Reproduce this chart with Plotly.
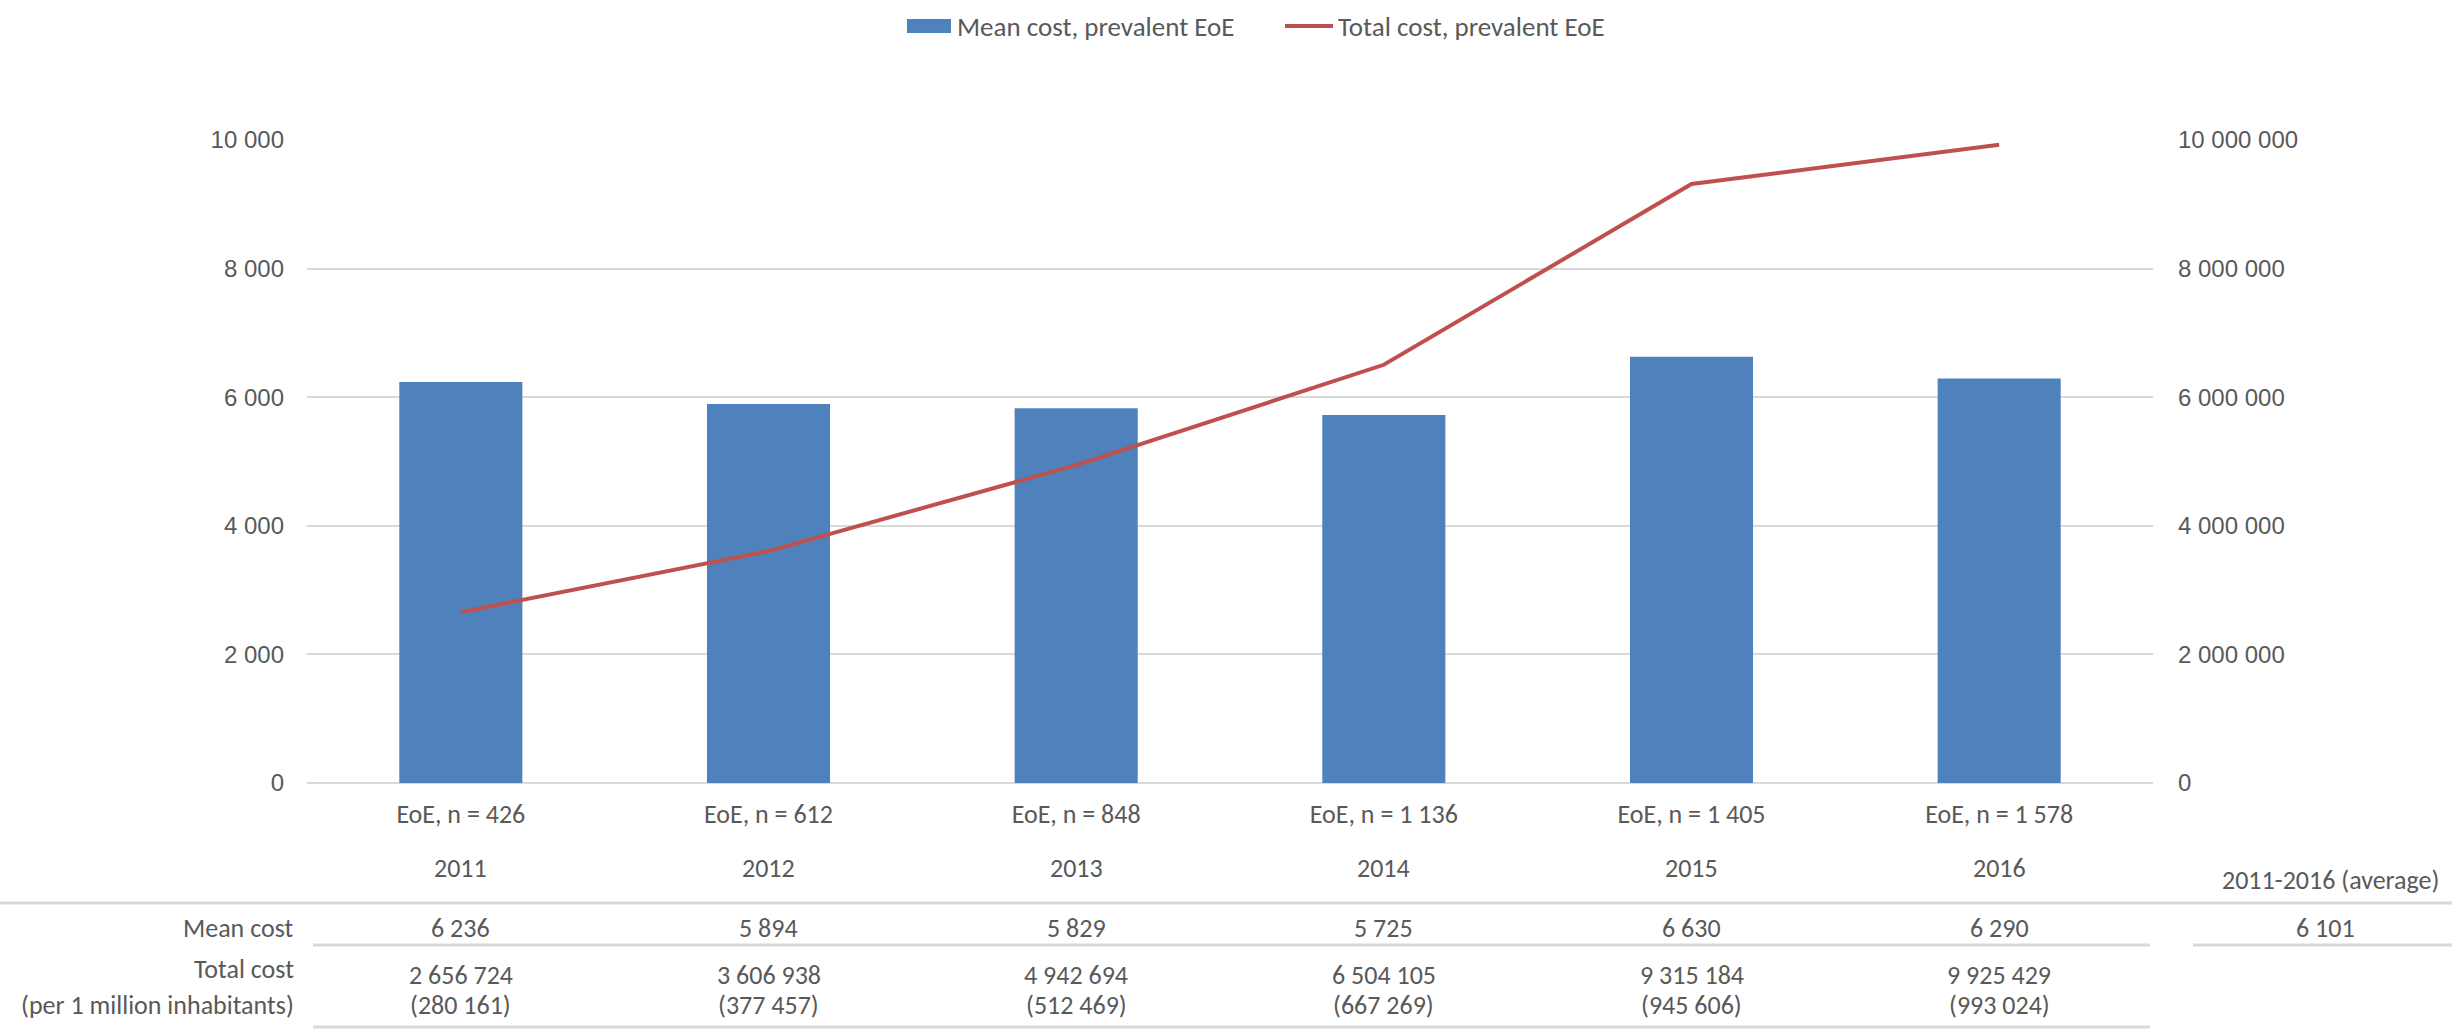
import plotly.graph_objects as go

# ---- data ----
years = ["2011", "2012", "2013", "2014", "2015", "2016"]
group_labels = ["EoE, n = 426", "EoE, n = 612", "EoE, n = 848",
                "EoE, n = 1 136", "EoE, n = 1 405", "EoE, n = 1 578"]
mean_cost = [6236, 5894, 5829, 5725, 6630, 6290]
total_cost = [2656724, 3606938, 4942694, 6504105, 9315184, 9925429]
total_per_million = [280161, 377457, 512469, 667269, 945606, 993024]
mean_cost_avg = 6101
avg_label = "2011-2016 (average)"

left_ticks = [0, 2000, 4000, 6000, 8000, 10000]
right_ticks = [0, 2000000, 4000000, 6000000, 8000000, 10000000]


def spaced(v):
    """Format an integer with a space as thousands separator."""
    return f"{v:,}".replace(",", " ")


# ---- layout geometry (pixels) ----
W, H = 2458, 1030
L, R, T, B = 307, 2153, 140, 783
PW, PH = R - L, B - T

def px(xp):
    return (xp - L) / PW

def py(yp):
    return (B - yp) / PH

GREY = "#595959"
GRID = "#d9d9d9"
BLUE = "#4f81bd"
RED = "#c0504d"
TXT_FONT = "Carlito, Lato, sans-serif"
NUM_FONT = "Liberation Sans, Arial, sans-serif"
TXT_SIZE = 26

fig = go.Figure()
fig.add_trace(go.Bar(
    x=years, y=mean_cost, name="Mean cost, prevalent EoE",
    marker=dict(color=BLUE, line=dict(width=0)), yaxis="y",
))
fig.add_trace(go.Scatter(
    x=years, y=total_cost, name="Total cost, prevalent EoE",
    mode="lines", line=dict(color=RED, width=4), yaxis="y2",
))

annotations = []
shapes = []

def txt(x, y, text, xref="paper", xanchor="center", size=TXT_SIZE):
    annotations.append(dict(x=x, xref=xref, y=py(y), yref="paper",
                            text=text, showarrow=False, xanchor=xanchor,
                            yanchor="middle",
                            font=dict(family=TXT_FONT, size=size, color=GREY)))

# year row beneath the group labels (category index on the x axis)
for i, yr in enumerate(years):
    txt(i, 868, yr, xref="x")
txt(px(2330), 880, avg_label)

# table rows
txt(px(296), 928, "Mean cost", xanchor="right")
txt(px(296), 969, "Total cost", xanchor="right")
txt(px(296), 1005, "(per 1 million inhabitants)", xanchor="right")
for i, (m, t, tp) in enumerate(zip(mean_cost, total_cost, total_per_million)):
    txt(i, 928, spaced(m), xref="x")
    txt(i, 975, spaced(t), xref="x")
    txt(i, 1005, f"({spaced(tp)})", xref="x")
txt(px(2325), 928, spaced(mean_cost_avg))

# table rules
def hline(x0, x1, y):
    shapes.append(dict(type="line", xref="paper", yref="paper",
                       x0=px(x0), x1=px(x1), y0=py(y), y1=py(y),
                       line=dict(color=GRID, width=3)))

hline(0, 2452, 903)
hline(313, 2150, 945)
hline(2193, 2452, 945)
hline(313, 2150, 1027)

# legend drawn at the top
shapes.append(dict(type="rect", xref="paper", yref="paper",
                   x0=px(907), x1=px(951), y0=py(33), y1=py(19),
                   fillcolor=BLUE, line=dict(width=0)))
shapes.append(dict(type="line", xref="paper", yref="paper",
                   x0=px(1285), x1=px(1333), y0=py(26), y1=py(26),
                   line=dict(color=RED, width=4)))
txt(px(955), 26, "Mean cost, prevalent EoE", xanchor="left", size=27)
txt(px(1336), 26, "Total cost, prevalent EoE", xanchor="left", size=27)

fig.update_layout(
    width=W, height=H,
    margin=dict(l=L, r=W - R, t=T, b=H - B, pad=0),
    paper_bgcolor="white", plot_bgcolor="white",
    showlegend=False,
    bargap=0.6,
    xaxis=dict(
        type="category", range=[-0.5, len(years) - 0.5],
        tickmode="array", tickvals=years, ticktext=group_labels,
        showgrid=False, zeroline=False, showline=False, ticks="",
        tickangle=0,
        tickfont=dict(family=TXT_FONT, size=TXT_SIZE, color=GREY),
        ticklabelstandoff=13,
    ),
    yaxis=dict(
        range=[0, 10000], tickvals=left_ticks,
        ticktext=[spaced(v) for v in left_ticks],
        showgrid=True, gridcolor=GRID, gridwidth=2,
        zeroline=True, zerolinecolor=GRID, zerolinewidth=2,
        showline=False, ticks="",
        tickfont=dict(family=NUM_FONT, size=24, color=GREY),
        ticklabelstandoff=22,
    ),
    yaxis2=dict(
        range=[0, 10000000], tickvals=right_ticks,
        ticktext=[spaced(v) for v in right_ticks],
        overlaying="y", side="right",
        showgrid=False, zeroline=False, showline=False, ticks="",
        tickfont=dict(family=NUM_FONT, size=24, color=GREY),
        ticklabelstandoff=24,
    ),
    annotations=annotations,
    shapes=shapes,
)

fig.write_html("out.html")
